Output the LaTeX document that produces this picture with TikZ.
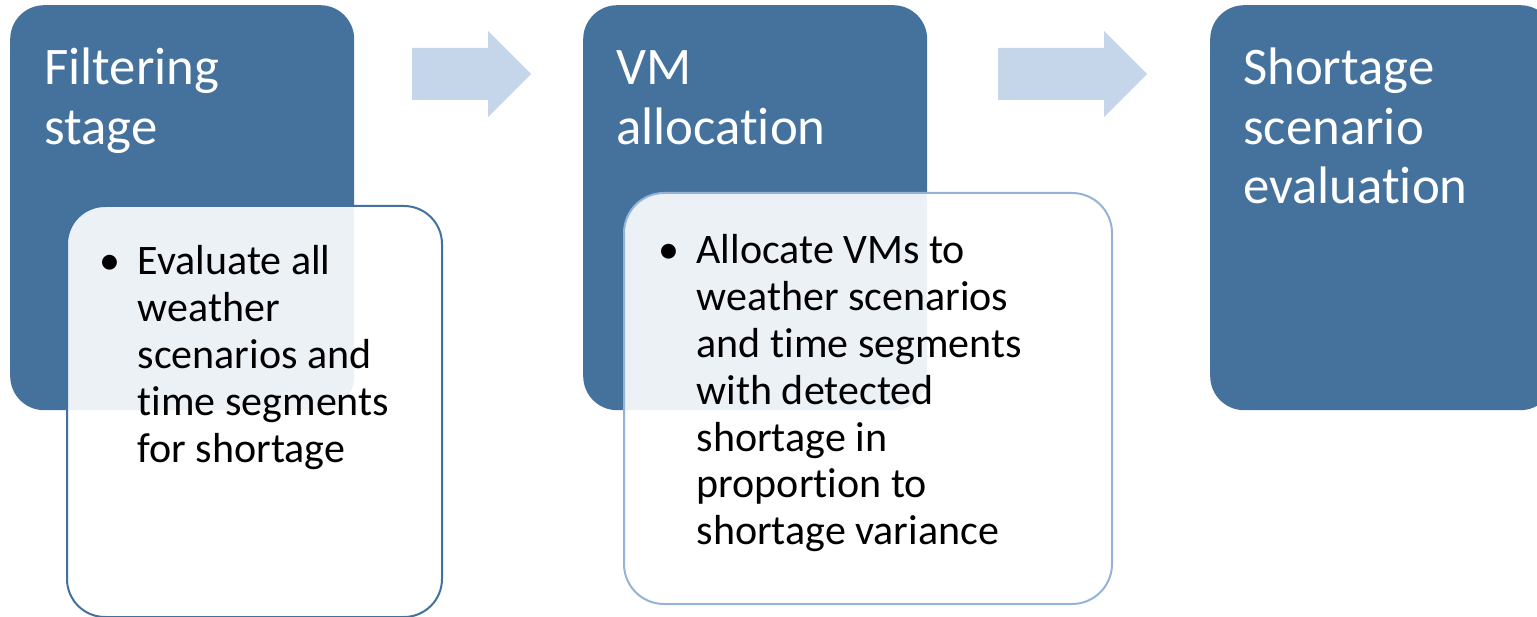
\documentclass[tikz,border=0pt]{standalone}
\usepackage{fontspec}
\setmainfont{Carlito}[RawFeature={-liga;-clig;-calt;-dlig}]
\usetikzlibrary{calc}

\definecolor{stagefill}{HTML}{44729D}
\definecolor{arrowfill}{HTML}{C5D5EA}
\definecolor{noteedgedark}{HTML}{41719C}
\definecolor{noteedgelight}{HTML}{95B3D7}

% keeps "t" and "i" as separate glyphs
\newcommand{\splitti}{t\kern0pt i}

\tikzset{
  stagebox/.style={fill=stagefill, draw=none, rounded corners=34pt, inner sep=0pt,
    minimum width=344pt, minimum height=405pt, anchor=north west},
  notebox/.style={fill=white, fill opacity=0.9, line width=2pt, inner sep=0pt,
    minimum height=411pt, anchor=north west},
  flowarrow/.style={fill=arrowfill, draw=none},
  stagetitle/.style={inner sep=0pt, anchor=base west, text=white,
    font=\fontsize{52.8}{59.5}\selectfont},
  notetext/.style={inner sep=0pt, anchor=base west, text=black,
    font=\fontsize{42}{46.8}\selectfont},
}

% bulleted paragraph with a hanging indent: every line after the first
% starts under the first word
\newcommand{\bulletlines}[2]{%
  \parbox[t]{#1}{\raggedright\leftskip=38pt
    \hspace*{-38pt}\makebox[38pt][l]{\textbullet}#2}}

\begin{document}
\begin{tikzpicture}[x=1pt,y=-1pt]
  \useasboundingbox (0,0) rectangle (1537,617);

  % stage 1 with its note
  \node[stagebox] (s1) at (10,5) {};
  \node[notebox, draw=noteedgedark, rounded corners=38pt, minimum width=375pt] (n1) at (66,205) {};

  % arrow between stage 1 and stage 2
  \fill[flowarrow] (412,48) -- (488,48) -- (488,31) -- (531,74)
    -- (488,117) -- (488,100) -- (412,100) -- cycle;

  % stage 2 with its note
  \node[stagebox] (s2) at (583,5) {};
  \node[notebox, draw=noteedgelight, rounded corners=40pt, minimum width=488pt] (n2) at (623,192) {};

  % arrow between stage 2 and stage 3
  \fill[flowarrow] (998,48) -- (1104,48) -- (1104,31) -- (1147,74)
    -- (1104,117) -- (1104,100) -- (998,100) -- cycle;

  % stage 3, running past the right edge
  \begin{scope}
    \clip (0,0) rectangle (1537,617);
    \node[stagebox] (s3) at (1210,5) {};
  \end{scope}

  % stage titles
  \node[stagetitle] (t1) at ($(s1.north west)+(34,80)$) {\parbox[t]{300pt}{\raggedright Filtering\\stage}};
  \node[stagetitle] (t2) at ($(s2.north west)+(33,80)$) {\parbox[t]{300pt}{\raggedright VM\\alloca\splitti on}};
  \node[stagetitle] (t3) at ($(s3.north west)+(33,80)$) {\parbox[t]{300pt}{\raggedright Shortage\\scenario\\evalua\splitti on}};

  % note texts
  \node[notetext] (d1) at (99.5,275) {\bulletlines{330pt}{Evaluate all\\weather\\scenarios and\\\splitti me segments\\for shortage}};
  \node[notetext] (d2) at (658.5,264) {\bulletlines{440pt}{Allocate VMs to\\weather scenarios\\and \splitti me segments\\with detected\\shortage in\\propor\splitti on to\\shortage variance}};
\end{tikzpicture}
\end{document}
